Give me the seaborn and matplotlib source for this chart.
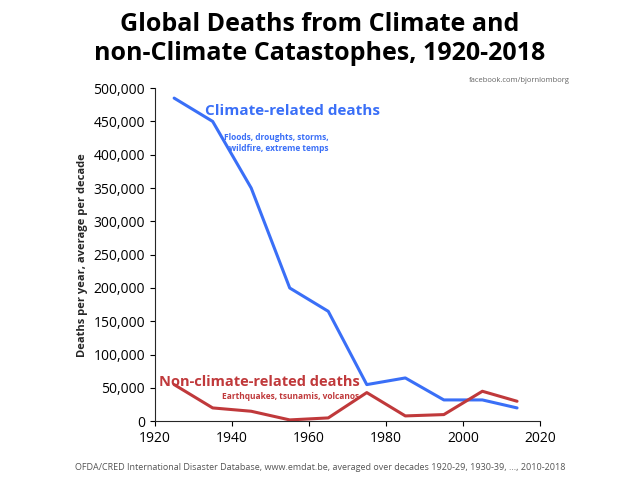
import numpy as np
import pandas as pd
import matplotlib
matplotlib.use("Agg")
import matplotlib.pyplot as plt
import seaborn as sns
from matplotlib.ticker import FuncFormatter

# ── Theme ────────────────────────────────────────────────────
BLUE = "#3a6ff7"
RED = "#c0393b"

sns.set_style("ticks")
plt.rcParams.update({"font.family": ["Open Sans", "DejaVu Sans"], "font.size": 10,
                     "text.color": "black", "xtick.color": "black", "ytick.color": "black"})

years = [1925, 1935, 1945, 1955, 1965, 1975, 1985, 1995, 2005, 2014]
df = pd.DataFrame({
    "year": years * 2,
    "deaths": [485000, 450000, 350000, 200000, 165000, 55000, 65000, 32000, 32000, 20000,
               55000, 20000, 15000, 2000, 5000, 43000, 8000, 10000, 45000, 30000],
    "kind": ["climate"] * 10 + ["non"] * 10,
})

fig = plt.figure(figsize=(6.4, 4.95), dpi=100)
ax = fig.add_axes([0.242, 0.149, 0.602, 0.673])
sns.lineplot(data=df, x="year", y="deaths", hue="kind", palette={"climate": BLUE, "non": RED},
             lw=2.2, legend=False, ax=ax)

ax.set_xlim(1920, 2020)
ax.set_ylim(0, 500000)
ax.set_xticks(range(1920, 2021, 20))
ax.set_yticks(range(0, 500001, 50000))
ax.yaxis.set_major_formatter(FuncFormatter(lambda v, p: f"{int(v):,}"))
ax.set_xlabel("")
ax.set_ylabel("Deaths per year, average per decade", fontsize=8, fontweight="bold")
sns.despine(ax=ax)

fig.text(0.5, 0.975, "Global Deaths from Climate and\nnon-Climate Catastophes, 1920-2018",
         ha="center", va="top", fontsize=18, fontweight="bold", linespacing=1.2)
fig.text(0.89, 0.835, "facebook.com/bjornlomborg", ha="right", fontsize=5.5, color="#666666")
ax.text(1933, 460000, "Climate-related deaths", color=BLUE, fontsize=11, fontweight="bold")
ax.text(1965, 432000, "Floods, droughts, storms,\nwildfire, extreme temps", color=BLUE,
        fontsize=6, fontweight="bold", ha="right", va="top")
ax.text(1921, 53000, "Non-climate-related deaths", color=RED, fontsize=10.5, fontweight="bold")
ax.text(1973, 44000, "Earthquakes, tsunamis, volcanos", color=RED, fontsize=6, fontweight="bold",
        ha="right", va="top")
fig.text(0.5, 0.05, "OFDA/CRED International Disaster Database, www.emdat.be, averaged over decades 1920-29, 1930-39, ..., 2010-2018",
         ha="center", fontsize=6.5, color="#555555")

fig.savefig("out.png", dpi=100)
